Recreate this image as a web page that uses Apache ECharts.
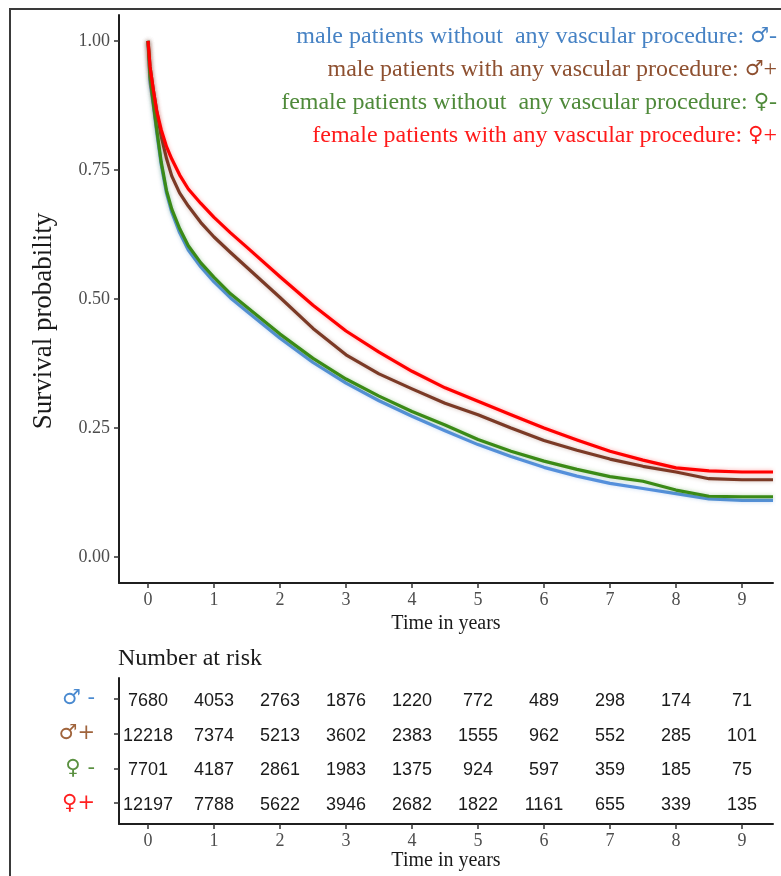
<!DOCTYPE html>
<html>
<head>
<meta charset="utf-8">
<script src="https://cdn.jsdelivr.net/npm/echarts@6/dist/echarts.min.js"></script>
<style>
  html, body { margin: 0; padding: 0; background: #ffffff; }
  #chart { width: 781px; height: 876px; }
</style>
</head>
<body>
<div id="chart"></div>
<script>
// Kaplan-Meier survival estimates (time in years) per group
const times = [0, 0.03, 0.08, 0.13, 0.2, 0.28, 0.36, 0.48, 0.61, 0.8, 1.0, 1.25, 1.5, 2, 2.5, 3, 3.5, 4, 4.5, 5, 5.5, 6, 6.5, 7, 7.5, 8, 8.5, 9, 9.47];
const survMaleNoProc   = [1.0, 0.92, 0.875, 0.825, 0.76, 0.705, 0.668, 0.628, 0.595, 0.562, 0.533, 0.502, 0.476, 0.424, 0.377, 0.337, 0.303, 0.273, 0.245, 0.218, 0.195, 0.174, 0.157, 0.143, 0.133, 0.123, 0.113, 0.110, 0.110];
const survMaleProc     = [1.0, 0.95, 0.905, 0.865, 0.815, 0.772, 0.738, 0.705, 0.68, 0.648, 0.62, 0.59, 0.561, 0.503, 0.443, 0.392, 0.355, 0.326, 0.298, 0.276, 0.25, 0.226, 0.207, 0.19, 0.176, 0.165, 0.152, 0.150, 0.150];
const survFemaleNoProc = [1.0, 0.93, 0.88, 0.83, 0.765, 0.71, 0.674, 0.636, 0.603, 0.57, 0.542, 0.51, 0.484, 0.432, 0.385, 0.345, 0.312, 0.282, 0.256, 0.228, 0.205, 0.186, 0.17, 0.156, 0.147, 0.13, 0.118, 0.117, 0.117];
const survFemaleProc   = [1.0, 0.95, 0.905, 0.865, 0.828, 0.795, 0.771, 0.74, 0.713, 0.685, 0.658, 0.628, 0.60, 0.543, 0.488, 0.438, 0.397, 0.36, 0.328, 0.302, 0.276, 0.25, 0.227, 0.205, 0.188, 0.173, 0.167, 0.165, 0.165];

// Number-at-risk table
const riskTimes = [0, 1, 2, 3, 4, 5, 6, 7, 8, 9];
const riskMaleNoProc   = [7680, 4053, 2763, 1876, 1220, 772, 489, 298, 174, 71];
const riskMaleProc     = [12218, 7374, 5213, 3602, 2383, 1555, 962, 552, 285, 101];
const riskFemaleNoProc = [7701, 4187, 2861, 1983, 1375, 924, 597, 359, 185, 75];
const riskFemaleProc   = [12197, 7788, 5622, 3946, 2682, 1822, 1161, 655, 339, 135];

const groupShort = ['♂ -', '♂+', '♀ -', '♀+'];
const groupText = [
  'male patients without  any vascular procedure: ',
  'male patients with any vascular procedure: ',
  'female patients without  any vascular procedure: ',
  'female patients with any vascular procedure: '
];
const groupSymbol = ['♂', '♂', '♀', '♀'];
const groupSign = ['-', '+', '-', '+'];
const yTicks = [0, 0.25, 0.5, 0.75, 1.0];
const xTicks = [0, 1, 2, 3, 4, 5, 6, 7, 8, 9];

const lineColors = ['#5590dc', '#7b3a26', '#3a8a16', '#ff0000'];
const textColors = ['#4682c4', '#8e5030', '#4f8a3a', '#ff1a1a'];
const rowColors  = ['#4a8ad0', '#a0643c', '#5a9040', '#ff2020'];

const curves = [survMaleNoProc, survMaleProc, survFemaleNoProc, survFemaleProc];
const risks  = [riskMaleNoProc, riskMaleProc, riskFemaleNoProc, riskFemaleProc];

const SERIF = '"Liberation Serif", "DejaVu Serif", serif';
const SANS = '"Liberation Sans", Arial, sans-serif';

const chart = echarts.init(document.getElementById('chart'), null, { renderer: 'canvas' });

const axisLineStyle = { color: '#1f1f1f', width: 2 };
const tickStyle = { color: '#333333', width: 1.5 };

const lineSeries = curves.map((vals, i) => ({
  type: 'line',
  xAxisIndex: 0,
  yAxisIndex: 0,
  showSymbol: false,
  symbol: 'none',
  data: times.map((t, k) => [t, vals[k]]),
  lineStyle: {
    color: lineColors[i],
    width: 3.2,
    join: 'round',
    shadowColor: echarts.color.modifyAlpha(lineColors[i], 0.35),
    shadowBlur: 4
  },
  z: 2 + i,
  silent: true,
  animation: false
}));

// risk table cells as text placed through the table's axes
const riskCells = [];
risks.forEach((row, r) => {
  row.forEach((n, c) => riskCells.push([riskTimes[c], r + 1, n]));
});

const riskSeries = {
  type: 'custom',
  xAxisIndex: 1,
  yAxisIndex: 1,
  data: riskCells,
  renderItem: function (params, api) {
    const p = api.coord([api.value(0), api.value(1)]);
    return {
      type: 'text',
      x: p[0],
      y: p[1] + 2,
      style: {
        text: String(api.value(2)),
        align: 'center',
        verticalAlign: 'middle',
        font: '18px ' + SANS,
        fill: '#1a1a1a'
      }
    };
  },
  silent: true,
  animation: false
};

const rich = {};
groupShort.forEach((g, i) => {
  rich['g' + i] = { color: rowColors[i], fontSize: 21, fontFamily: '"DejaVu Sans", sans-serif' };
});

const legendGraphics = groupText.map((txt, i) => ({
  type: 'text',
  right: 4,
  top: 25 + i * 33,
  style: {
    text: '{t|' + txt + '}{s|' + groupSymbol[i] + '}{t|' + groupSign[i] + '}',
    align: 'right',
    rich: {
      t: { font: '24px ' + SERIF, fill: textColors[i], color: textColors[i] },
      s: { fontFamily: '"DejaVu Sans", sans-serif', fontSize: 21, color: textColors[i], fill: textColors[i] }
    }
  },
  silent: true
}));

chart.setOption({
  animation: false,
  backgroundColor: '#ffffff',
  grid: [
    { left: 119, top: 15, width: 654, height: 568 },
    { left: 119, top: 678, width: 654, height: 146 }
  ],
  xAxis: [
    {
      type: 'value', gridIndex: 0, min: -0.44, max: 9.47,
      splitLine: { show: false },
      axisLine: { onZero: false, lineStyle: axisLineStyle },
      axisTick: { length: 5, lineStyle: tickStyle, customValues: xTicks },
      axisLabel: { customValues: xTicks, margin: 8, color: '#4d4d4d', fontFamily: SERIF, fontSize: 18 },
      name: 'Time in years', nameLocation: 'middle', nameGap: 25,
      nameTextStyle: { color: '#1a1a1a', fontFamily: SERIF, fontSize: 20 }
    },
    {
      type: 'value', gridIndex: 1, min: -0.44, max: 9.47,
      splitLine: { show: false },
      axisLine: { onZero: false, lineStyle: axisLineStyle },
      axisTick: { length: 5, lineStyle: tickStyle, customValues: xTicks },
      axisLabel: { customValues: xTicks, margin: 8, color: '#4d4d4d', fontFamily: SERIF, fontSize: 18 },
      name: 'Time in years', nameLocation: 'middle', nameGap: 27,
      nameTextStyle: { color: '#1a1a1a', fontFamily: SERIF, fontSize: 20 }
    }
  ],
  yAxis: [
    {
      type: 'value', gridIndex: 0, min: -0.05, max: 1.05,
      splitLine: { show: false },
      axisLine: { onZero: false, lineStyle: axisLineStyle },
      axisTick: { length: 5, lineStyle: tickStyle, customValues: yTicks },
      axisLabel: {
        customValues: yTicks, margin: 9, color: '#4d4d4d', fontFamily: SERIF, fontSize: 18,
        formatter: v => v.toFixed(2)
      }
    },
    {
      type: 'value', gridIndex: 1, min: 0.4, max: 4.6, inverse: true,
      splitLine: { show: false },
      axisLine: { onZero: false, lineStyle: axisLineStyle },
      axisTick: { length: 5, lineStyle: tickStyle, customValues: [1, 2, 3, 4] },
      axisLabel: {
        customValues: [1, 2, 3, 4], margin: 24, rich: rich,
        formatter: v => '{g' + (v - 1) + '|' + groupShort[v - 1] + '}'
      }
    }
  ],
  graphic: [
    {
      type: 'polyline',
      shape: { points: [[10, 876], [10, 9], [781, 9]] },
      style: { stroke: '#3a3a3a', lineWidth: 2, fill: null },
      silent: true
    },
    {
      type: 'text',
      x: 44, y: 321,
      rotation: Math.PI / 2,
      style: {
        text: 'Survival probability',
        font: '27px ' + SERIF,
        fill: '#1a1a1a',
        align: 'center',
        verticalAlign: 'middle'
      },
      silent: true
    },
    {
      type: 'text',
      left: 118, top: 647,
      style: { text: 'Number at risk', font: '24px ' + SERIF, fill: '#1a1a1a' },
      silent: true
    }
  ].concat(legendGraphics),
  series: lineSeries.concat([riskSeries])
});
</script>
</body>
</html>
